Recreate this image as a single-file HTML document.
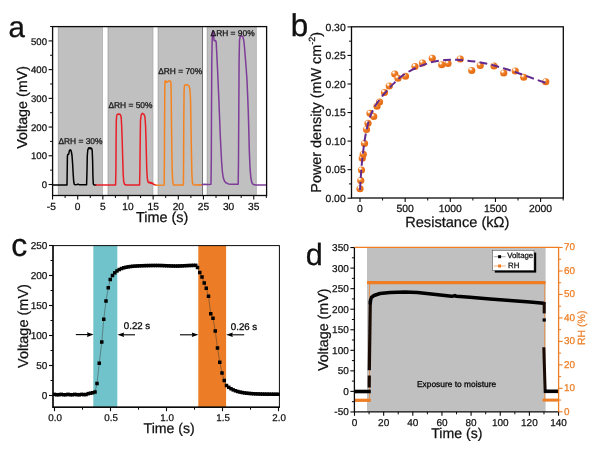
<!DOCTYPE html>
<html lang="en">
<head>
<meta charset="utf-8">
<title>Figure</title>
<style>
html,body{margin:0;padding:0;background:#fff;}
body{width:600px;height:450px;overflow:hidden;}
svg{display:block;filter:blur(0.45px);}
svg text{font-family:'Liberation Sans', Arial, sans-serif;text-rendering:geometricPrecision;}
</style>
</head>
<body>
<svg width="600" height="450" viewBox="0 0 600 450">
<defs>
<radialGradient id="ball" cx="0.36" cy="0.32" r="0.7" fx="0.33" fy="0.28">
<stop offset="0" stop-color="#ffffff"/>
<stop offset="0.16" stop-color="#fff1e0"/>
<stop offset="0.30" stop-color="#f39447"/>
<stop offset="0.55" stop-color="#ec751c"/>
<stop offset="1" stop-color="#e36a14"/>
</radialGradient>
</defs>
<rect x="0" y="0" width="600" height="450" fill="#ffffff"/>
<rect x="58.30" y="26.60" width="44.20" height="168.90" fill="#c0c0c0" />
<line x1="58.30" y1="26.60" x2="58.30" y2="195.50" stroke="#8a8a8a" stroke-width="0.6" />
<line x1="102.50" y1="26.60" x2="102.50" y2="195.50" stroke="#a0a0a0" stroke-width="0.6" />
<rect x="108.00" y="26.60" width="45.00" height="168.90" fill="#c0c0c0" />
<line x1="108.00" y1="26.60" x2="108.00" y2="195.50" stroke="#8a8a8a" stroke-width="0.6" />
<line x1="153.00" y1="26.60" x2="153.00" y2="195.50" stroke="#a0a0a0" stroke-width="0.6" />
<rect x="158.10" y="26.60" width="44.40" height="168.90" fill="#c0c0c0" />
<line x1="158.10" y1="26.60" x2="158.10" y2="195.50" stroke="#8a8a8a" stroke-width="0.6" />
<line x1="202.50" y1="26.60" x2="202.50" y2="195.50" stroke="#a0a0a0" stroke-width="0.6" />
<rect x="207.20" y="26.60" width="49.20" height="168.90" fill="#c0c0c0" />
<line x1="207.20" y1="26.60" x2="207.20" y2="195.50" stroke="#8a8a8a" stroke-width="0.6" />
<line x1="256.40" y1="26.60" x2="256.40" y2="195.50" stroke="#a0a0a0" stroke-width="0.6" />
<line x1="202.50" y1="26.60" x2="202.50" y2="195.50" stroke="#555" stroke-width="0.7" />
<polyline points="52.60,185.00 67.00,185.00 67.20,170.50 67.40,156.50 67.80,154.50 68.80,154.00 69.30,151.00 70.00,149.80 70.80,150.10 71.40,152.00 72.00,155.50 72.60,163.50 73.20,174.50 73.70,181.50 74.20,184.10 75.00,184.80 77.00,184.50 78.00,184.10 79.00,184.70 86.60,184.80 87.00,170.50 87.30,155.50 87.80,150.00 88.60,148.00 89.50,147.70 90.20,148.90 90.80,147.90 91.60,148.30 92.20,150.50 92.60,160.50 92.90,175.50 93.30,184.00 94.00,184.90 96.00,185.00" fill="none" stroke="#000" stroke-width="1.5" stroke-linejoin="round" stroke-linecap="round" />
<polyline points="96.00,185.10 115.60,185.10 115.90,170.50 116.10,140.50 116.30,120.50 116.70,115.50 117.40,114.20 119.60,114.10 120.60,115.10 121.20,117.50 121.70,126.50 122.20,140.50 122.70,158.50 123.20,174.50 123.70,181.50 124.50,184.30 126.00,185.00 139.60,185.00 139.90,170.50 140.20,140.50 140.50,120.50 141.20,115.00 142.40,113.30 143.80,114.10 144.90,116.50 145.50,124.50 146.00,138.50 146.40,155.50 146.80,170.50 147.30,178.50 148.00,182.00 148.80,182.70 149.60,182.10 150.40,183.30 151.20,182.50 152.00,183.70 152.70,183.10 153.50,184.30 154.70,184.70 156.00,185.10" fill="none" stroke="#e81f27" stroke-width="1.5" stroke-linejoin="round" stroke-linecap="round" />
<polyline points="156.00,185.20 164.20,185.10 164.40,160.50 164.60,120.50 164.80,90.50 165.00,81.10 165.80,80.80 166.60,82.30 167.60,82.10 168.60,80.90 170.20,80.90 170.90,82.50 171.20,95.50 171.50,125.50 171.90,155.50 172.30,172.50 172.80,182.50 173.60,185.00 183.40,185.00 183.60,160.50 183.80,120.50 184.10,90.50 184.50,85.30 185.70,84.70 187.60,84.90 189.00,86.00 189.90,89.00 190.50,98.50 190.90,120.50 191.40,150.50 191.90,174.50 192.40,182.50 193.20,184.80 196.00,185.10 199.00,184.80 202.00,185.10" fill="none" stroke="#f4831f" stroke-width="1.5" stroke-linejoin="round" stroke-linecap="round" />
<polyline points="202.20,184.70 204.00,184.30 208.00,184.50 211.00,184.30 211.30,160.50 211.50,110.50 211.80,60.50 212.20,38.50 212.70,30.90 213.30,31.30 213.70,34.50 213.90,39.50 214.30,40.70 215.60,40.50 216.20,42.50 216.60,50.50 217.10,60.50 217.60,70.50 218.20,84.50 218.90,100.50 219.60,118.50 220.20,133.50 220.90,148.50 221.60,161.50 222.30,171.00 223.20,177.50 224.40,181.00 225.90,182.80 228.40,183.90 232.00,184.30 238.20,184.20 238.50,160.50 238.80,110.50 239.10,60.50 239.50,40.50 240.20,36.50 241.40,35.90 242.80,36.50 243.80,40.50 244.60,48.50 245.40,58.50 246.20,68.50 247.00,80.50 247.70,96.50 248.30,112.50 248.80,130.50 249.30,150.50 250.00,167.50 250.80,177.50 251.80,182.50 253.20,184.50 256.00,185.00 266.00,184.90" fill="none" stroke="#7d3c98" stroke-width="1.5" stroke-linejoin="round" stroke-linecap="round" />
<rect x="52.6" y="26.6" width="214.00" height="168.90" fill="none" stroke="#0a0a0a" stroke-width="1.3"/>
<line x1="48.60" y1="184.50" x2="52.60" y2="184.50" stroke="#0a0a0a" stroke-width="1.1" />
<text x="47.00" y="188.10" font-size="9.6" text-anchor="end" fill="#111"  stroke="#111" stroke-width="0.25">0</text>
<line x1="48.60" y1="155.78" x2="52.60" y2="155.78" stroke="#0a0a0a" stroke-width="1.1" />
<text x="47.00" y="159.38" font-size="9.6" text-anchor="end" fill="#111"  stroke="#111" stroke-width="0.25">100</text>
<line x1="48.60" y1="127.06" x2="52.60" y2="127.06" stroke="#0a0a0a" stroke-width="1.1" />
<text x="47.00" y="130.66" font-size="9.6" text-anchor="end" fill="#111"  stroke="#111" stroke-width="0.25">200</text>
<line x1="48.60" y1="98.34" x2="52.60" y2="98.34" stroke="#0a0a0a" stroke-width="1.1" />
<text x="47.00" y="101.94" font-size="9.6" text-anchor="end" fill="#111"  stroke="#111" stroke-width="0.25">300</text>
<line x1="48.60" y1="69.62" x2="52.60" y2="69.62" stroke="#0a0a0a" stroke-width="1.1" />
<text x="47.00" y="73.22" font-size="9.6" text-anchor="end" fill="#111"  stroke="#111" stroke-width="0.25">400</text>
<line x1="48.60" y1="40.90" x2="52.60" y2="40.90" stroke="#0a0a0a" stroke-width="1.1" />
<text x="47.00" y="44.50" font-size="9.6" text-anchor="end" fill="#111"  stroke="#111" stroke-width="0.25">500</text>
<line x1="50.10" y1="170.14" x2="52.60" y2="170.14" stroke="#0a0a0a" stroke-width="1.0" />
<line x1="50.10" y1="141.42" x2="52.60" y2="141.42" stroke="#0a0a0a" stroke-width="1.0" />
<line x1="50.10" y1="112.70" x2="52.60" y2="112.70" stroke="#0a0a0a" stroke-width="1.0" />
<line x1="50.10" y1="83.98" x2="52.60" y2="83.98" stroke="#0a0a0a" stroke-width="1.0" />
<line x1="50.10" y1="55.26" x2="52.60" y2="55.26" stroke="#0a0a0a" stroke-width="1.0" />
<line x1="50.10" y1="26.54" x2="52.60" y2="26.54" stroke="#0a0a0a" stroke-width="1.0" />
<line x1="52.55" y1="195.50" x2="52.55" y2="199.50" stroke="#0a0a0a" stroke-width="1.1" />
<text x="51.35" y="209.50" font-size="10.2" text-anchor="middle" fill="#111"  stroke="#111" stroke-width="0.25">-5</text>
<line x1="77.70" y1="195.50" x2="77.70" y2="199.50" stroke="#0a0a0a" stroke-width="1.1" />
<text x="77.70" y="209.50" font-size="10.2" text-anchor="middle" fill="#111"  stroke="#111" stroke-width="0.25">0</text>
<line x1="102.85" y1="195.50" x2="102.85" y2="199.50" stroke="#0a0a0a" stroke-width="1.1" />
<text x="102.85" y="209.50" font-size="10.2" text-anchor="middle" fill="#111"  stroke="#111" stroke-width="0.25">5</text>
<line x1="128.00" y1="195.50" x2="128.00" y2="199.50" stroke="#0a0a0a" stroke-width="1.1" />
<text x="128.00" y="209.50" font-size="10.2" text-anchor="middle" fill="#111"  stroke="#111" stroke-width="0.25">10</text>
<line x1="153.15" y1="195.50" x2="153.15" y2="199.50" stroke="#0a0a0a" stroke-width="1.1" />
<text x="153.15" y="209.50" font-size="10.2" text-anchor="middle" fill="#111"  stroke="#111" stroke-width="0.25">15</text>
<line x1="178.30" y1="195.50" x2="178.30" y2="199.50" stroke="#0a0a0a" stroke-width="1.1" />
<text x="178.30" y="209.50" font-size="10.2" text-anchor="middle" fill="#111"  stroke="#111" stroke-width="0.25">20</text>
<line x1="203.45" y1="195.50" x2="203.45" y2="199.50" stroke="#0a0a0a" stroke-width="1.1" />
<text x="203.45" y="209.50" font-size="10.2" text-anchor="middle" fill="#111"  stroke="#111" stroke-width="0.25">25</text>
<line x1="228.60" y1="195.50" x2="228.60" y2="199.50" stroke="#0a0a0a" stroke-width="1.1" />
<text x="228.60" y="209.50" font-size="10.2" text-anchor="middle" fill="#111"  stroke="#111" stroke-width="0.25">30</text>
<line x1="253.75" y1="195.50" x2="253.75" y2="199.50" stroke="#0a0a0a" stroke-width="1.1" />
<text x="253.75" y="209.50" font-size="10.2" text-anchor="middle" fill="#111"  stroke="#111" stroke-width="0.25">35</text>
<line x1="65.12" y1="195.50" x2="65.12" y2="198.00" stroke="#0a0a0a" stroke-width="1.0" />
<line x1="90.28" y1="195.50" x2="90.28" y2="198.00" stroke="#0a0a0a" stroke-width="1.0" />
<line x1="115.43" y1="195.50" x2="115.43" y2="198.00" stroke="#0a0a0a" stroke-width="1.0" />
<line x1="140.57" y1="195.50" x2="140.57" y2="198.00" stroke="#0a0a0a" stroke-width="1.0" />
<line x1="165.73" y1="195.50" x2="165.73" y2="198.00" stroke="#0a0a0a" stroke-width="1.0" />
<line x1="190.88" y1="195.50" x2="190.88" y2="198.00" stroke="#0a0a0a" stroke-width="1.0" />
<line x1="216.03" y1="195.50" x2="216.03" y2="198.00" stroke="#0a0a0a" stroke-width="1.0" />
<line x1="241.18" y1="195.50" x2="241.18" y2="198.00" stroke="#0a0a0a" stroke-width="1.0" />
<line x1="266.32" y1="195.50" x2="266.32" y2="198.00" stroke="#0a0a0a" stroke-width="1.0" />
<text x="162.20" y="222.40" font-size="14.4" text-anchor="middle" fill="#111"  stroke="#111" stroke-width="0.25">Time (s)</text>
<text transform="translate(27.4,107.4) rotate(-90)" font-size="14.3" text-anchor="middle" fill="#111" stroke="#111" stroke-width="0.25">Voltage (mV)</text>
<text x="58.40" y="144.40" font-size="8.4" text-anchor="start" fill="#111"  stroke="#111" stroke-width="0.25">ΔRH = 30%</text>
<text x="108.40" y="107.60" font-size="8.4" text-anchor="start" fill="#111"  stroke="#111" stroke-width="0.25">ΔRH = 50%</text>
<text x="158.20" y="74.00" font-size="8.4" text-anchor="start" fill="#111"  stroke="#111" stroke-width="0.25">ΔRH = 70%</text>
<text x="210.60" y="36.00" font-size="8.4" text-anchor="start" fill="#111"  stroke="#111" stroke-width="0.25">ΔRH = 90%</text>
<text x="8.40" y="36.60" font-size="29.5" text-anchor="start" fill="#111" stroke="#111" stroke-width="0.3">a</text>
<rect x="351.5" y="26.8" width="211.80" height="171.20" fill="none" stroke="#0a0a0a" stroke-width="1.3"/>
<line x1="347.50" y1="198.20" x2="351.50" y2="198.20" stroke="#0a0a0a" stroke-width="1.1" />
<text x="345.70" y="201.80" font-size="10.4" text-anchor="end" fill="#111"  stroke="#111" stroke-width="0.25">0.00</text>
<line x1="347.50" y1="169.65" x2="351.50" y2="169.65" stroke="#0a0a0a" stroke-width="1.1" />
<text x="345.70" y="173.25" font-size="10.4" text-anchor="end" fill="#111"  stroke="#111" stroke-width="0.25">0.05</text>
<line x1="347.50" y1="141.10" x2="351.50" y2="141.10" stroke="#0a0a0a" stroke-width="1.1" />
<text x="345.70" y="144.70" font-size="10.4" text-anchor="end" fill="#111"  stroke="#111" stroke-width="0.25">0.10</text>
<line x1="347.50" y1="112.55" x2="351.50" y2="112.55" stroke="#0a0a0a" stroke-width="1.1" />
<text x="345.70" y="116.15" font-size="10.4" text-anchor="end" fill="#111"  stroke="#111" stroke-width="0.25">0.15</text>
<line x1="347.50" y1="84.00" x2="351.50" y2="84.00" stroke="#0a0a0a" stroke-width="1.1" />
<text x="345.70" y="87.60" font-size="10.4" text-anchor="end" fill="#111"  stroke="#111" stroke-width="0.25">0.20</text>
<line x1="347.50" y1="55.45" x2="351.50" y2="55.45" stroke="#0a0a0a" stroke-width="1.1" />
<text x="345.70" y="59.05" font-size="10.4" text-anchor="end" fill="#111"  stroke="#111" stroke-width="0.25">0.25</text>
<line x1="347.50" y1="26.90" x2="351.50" y2="26.90" stroke="#0a0a0a" stroke-width="1.1" />
<text x="345.70" y="30.50" font-size="10.4" text-anchor="end" fill="#111"  stroke="#111" stroke-width="0.25">0.30</text>
<line x1="349.00" y1="183.92" x2="351.50" y2="183.92" stroke="#0a0a0a" stroke-width="1.0" />
<line x1="349.00" y1="155.38" x2="351.50" y2="155.38" stroke="#0a0a0a" stroke-width="1.0" />
<line x1="349.00" y1="126.82" x2="351.50" y2="126.82" stroke="#0a0a0a" stroke-width="1.0" />
<line x1="349.00" y1="98.27" x2="351.50" y2="98.27" stroke="#0a0a0a" stroke-width="1.0" />
<line x1="349.00" y1="69.72" x2="351.50" y2="69.72" stroke="#0a0a0a" stroke-width="1.0" />
<line x1="349.00" y1="41.17" x2="351.50" y2="41.17" stroke="#0a0a0a" stroke-width="1.0" />
<line x1="360.00" y1="198.00" x2="360.00" y2="202.00" stroke="#0a0a0a" stroke-width="1.1" />
<text x="360.00" y="212.40" font-size="10.4" text-anchor="middle" fill="#111"  stroke="#111" stroke-width="0.25">0</text>
<line x1="405.15" y1="198.00" x2="405.15" y2="202.00" stroke="#0a0a0a" stroke-width="1.1" />
<text x="405.15" y="212.40" font-size="10.4" text-anchor="middle" fill="#111"  stroke="#111" stroke-width="0.25">500</text>
<line x1="450.30" y1="198.00" x2="450.30" y2="202.00" stroke="#0a0a0a" stroke-width="1.1" />
<text x="450.30" y="212.40" font-size="10.4" text-anchor="middle" fill="#111"  stroke="#111" stroke-width="0.25">1000</text>
<line x1="495.45" y1="198.00" x2="495.45" y2="202.00" stroke="#0a0a0a" stroke-width="1.1" />
<text x="495.45" y="212.40" font-size="10.4" text-anchor="middle" fill="#111"  stroke="#111" stroke-width="0.25">1500</text>
<line x1="540.60" y1="198.00" x2="540.60" y2="202.00" stroke="#0a0a0a" stroke-width="1.1" />
<text x="540.60" y="212.40" font-size="10.4" text-anchor="middle" fill="#111"  stroke="#111" stroke-width="0.25">2000</text>
<line x1="382.57" y1="198.00" x2="382.57" y2="200.50" stroke="#0a0a0a" stroke-width="1.0" />
<line x1="427.73" y1="198.00" x2="427.73" y2="200.50" stroke="#0a0a0a" stroke-width="1.0" />
<line x1="472.88" y1="198.00" x2="472.88" y2="200.50" stroke="#0a0a0a" stroke-width="1.0" />
<line x1="518.02" y1="198.00" x2="518.02" y2="200.50" stroke="#0a0a0a" stroke-width="1.0" />
<line x1="563.17" y1="198.00" x2="563.17" y2="200.50" stroke="#0a0a0a" stroke-width="1.0" />
<text x="457.30" y="227.00" font-size="14.6" text-anchor="middle" fill="#111"  stroke="#111" stroke-width="0.25">Resistance (kΩ)</text>
<text transform="translate(320.8,112.3) rotate(-90)" font-size="14.4" text-anchor="middle" fill="#111" stroke="#111" stroke-width="0.25">Power density (mW cm<tspan font-size="9" dy="-5.4">-2</tspan><tspan dy="5.4">)</tspan></text>
<text x="290.80" y="36.40" font-size="31.4" text-anchor="start" fill="#111" stroke="#111" stroke-width="0.3">b</text>
<circle cx="360.00" cy="188.75" r="3.6" fill="url(#ball)"/>
<circle cx="360.75" cy="180.50" r="3.6" fill="url(#ball)"/>
<circle cx="361.50" cy="170.00" r="3.6" fill="url(#ball)"/>
<circle cx="362.25" cy="158.25" r="3.6" fill="url(#ball)"/>
<circle cx="363.25" cy="154.25" r="3.6" fill="url(#ball)"/>
<circle cx="364.50" cy="143.50" r="3.6" fill="url(#ball)"/>
<circle cx="366.50" cy="129.50" r="3.6" fill="url(#ball)"/>
<circle cx="368.00" cy="123.25" r="3.6" fill="url(#ball)"/>
<circle cx="370.00" cy="113.25" r="3.6" fill="url(#ball)"/>
<circle cx="373.75" cy="116.50" r="3.6" fill="url(#ball)"/>
<circle cx="377.00" cy="106.25" r="3.6" fill="url(#ball)"/>
<circle cx="379.50" cy="102.00" r="3.6" fill="url(#ball)"/>
<circle cx="384.50" cy="92.50" r="3.6" fill="url(#ball)"/>
<circle cx="389.25" cy="86.00" r="3.6" fill="url(#ball)"/>
<circle cx="394.75" cy="74.00" r="3.6" fill="url(#ball)"/>
<circle cx="398.00" cy="78.25" r="3.6" fill="url(#ball)"/>
<circle cx="405.50" cy="76.25" r="3.6" fill="url(#ball)"/>
<circle cx="415.00" cy="66.50" r="3.6" fill="url(#ball)"/>
<circle cx="422.50" cy="63.00" r="3.6" fill="url(#ball)"/>
<circle cx="432.25" cy="58.25" r="3.6" fill="url(#ball)"/>
<circle cx="441.75" cy="64.75" r="3.6" fill="url(#ball)"/>
<circle cx="448.00" cy="63.50" r="3.6" fill="url(#ball)"/>
<circle cx="460.25" cy="59.00" r="3.6" fill="url(#ball)"/>
<circle cx="471.75" cy="70.50" r="3.6" fill="url(#ball)"/>
<circle cx="480.25" cy="65.50" r="3.6" fill="url(#ball)"/>
<circle cx="494.00" cy="66.00" r="3.6" fill="url(#ball)"/>
<circle cx="503.75" cy="73.00" r="3.6" fill="url(#ball)"/>
<circle cx="515.25" cy="71.00" r="3.6" fill="url(#ball)"/>
<circle cx="523.75" cy="77.25" r="3.6" fill="url(#ball)"/>
<circle cx="545.75" cy="81.75" r="3.6" fill="url(#ball)"/>
<path d="M360.00,190.00 C360.10,188.33 360.38,183.33 360.60,180.00 C360.82,176.67 361.02,173.50 361.30,170.00 C361.58,166.50 361.92,162.67 362.30,159.00 C362.68,155.33 363.12,151.67 363.60,148.00 C364.08,144.33 364.60,140.50 365.20,137.00 C365.80,133.50 366.40,130.33 367.20,127.00 C368.00,123.67 368.93,120.03 370.00,117.00 C371.07,113.97 372.27,111.33 373.60,108.80 C374.93,106.27 376.27,104.27 378.00,101.80 C379.73,99.33 382.17,96.23 384.00,94.00 C385.83,91.77 387.45,90.08 389.00,88.40 C390.55,86.72 391.25,85.88 393.30,83.90 C395.35,81.92 398.18,78.85 401.30,76.50 C404.42,74.15 408.43,71.70 412.00,69.80 C415.57,67.90 419.15,66.43 422.70,65.10 C426.25,63.77 429.53,62.65 433.30,61.80 C437.07,60.95 441.52,60.33 445.30,60.00 C449.08,59.67 451.05,59.55 456.00,59.80 C460.95,60.05 469.33,60.72 475.00,61.50 C480.67,62.28 485.00,63.30 490.00,64.50 C495.00,65.70 500.00,67.17 505.00,68.70 C510.00,70.23 515.00,71.97 520.00,73.70 C525.00,75.43 530.67,77.55 535.00,79.10 C539.33,80.65 544.17,82.35 546.00,83.00" fill="none" stroke="#622a8e" stroke-width="2.0" stroke-dasharray="8 4.2"/>
<rect x="93.30" y="245.60" width="24.00" height="161.60" fill="#70c3ca" />
<rect x="198.30" y="245.60" width="27.80" height="161.60" fill="#ec7c25" />
<polyline points="54.50,394.37 56.75,394.78 59.00,394.68 61.25,394.35 63.50,394.74 65.75,394.72 68.00,394.35 70.25,394.70 72.50,394.77 74.75,394.36 77.00,394.65 79.25,394.80 81.50,394.38 83.75,394.59 86.00,394.56 88.25,393.65 90.50,393.17 92.75,392.76 95.00,392.00 97.00,383.50 99.25,363.25 101.75,342.00 103.75,319.25 106.00,301.00 108.25,287.75 110.25,279.50 112.50,275.50 114.75,272.84 117.00,270.93 119.25,269.55 121.50,268.54 123.75,267.81 126.00,267.26 128.25,266.85 130.50,266.53 132.75,266.29 135.00,266.11 137.25,265.96 139.50,265.84 141.75,265.75 144.00,265.67 146.25,265.61 148.50,265.57 150.75,265.53 153.00,265.50 155.25,265.49 157.50,265.50 159.75,265.52 162.00,265.57 164.25,265.65 166.50,265.74 168.75,265.84 171.00,265.94 173.25,266.01 175.50,266.03 177.75,266.02 180.00,265.95 182.25,265.86 184.50,265.74 186.75,265.63 189.00,265.53 191.25,265.45 193.50,265.39 195.75,265.36 197.50,267.50 199.75,272.50 202.00,277.00 204.25,283.00 206.25,288.25 208.50,296.25 210.75,313.75 213.00,318.25 215.25,331.00 217.50,348.00 219.75,362.25 222.00,373.00 224.25,380.50 226.50,385.50 228.75,387.31 231.00,388.74 233.25,389.88 235.50,390.79 237.75,391.51 240.00,392.08 242.25,392.54 244.50,392.90 246.75,393.19 249.00,393.41 251.25,393.60 253.50,393.74 255.75,393.86 258.00,393.95 260.25,394.02 262.50,394.08 264.75,394.12 267.00,394.16 269.25,394.19 271.50,394.21 273.75,394.23 276.00,394.24 278.25,394.26" fill="none" stroke="#333" stroke-width="0.45" stroke-linejoin="round" stroke-linecap="round" />
<rect x="52.75" y="392.62" width="3.50" height="3.50" fill="#000" />
<rect x="55.00" y="393.03" width="3.50" height="3.50" fill="#000" />
<rect x="57.25" y="392.93" width="3.50" height="3.50" fill="#000" />
<rect x="59.50" y="392.60" width="3.50" height="3.50" fill="#000" />
<rect x="61.75" y="392.99" width="3.50" height="3.50" fill="#000" />
<rect x="64.00" y="392.97" width="3.50" height="3.50" fill="#000" />
<rect x="66.25" y="392.60" width="3.50" height="3.50" fill="#000" />
<rect x="68.50" y="392.95" width="3.50" height="3.50" fill="#000" />
<rect x="70.75" y="393.02" width="3.50" height="3.50" fill="#000" />
<rect x="73.00" y="392.61" width="3.50" height="3.50" fill="#000" />
<rect x="75.25" y="392.90" width="3.50" height="3.50" fill="#000" />
<rect x="77.50" y="393.05" width="3.50" height="3.50" fill="#000" />
<rect x="79.75" y="392.63" width="3.50" height="3.50" fill="#000" />
<rect x="82.00" y="392.84" width="3.50" height="3.50" fill="#000" />
<rect x="84.25" y="392.81" width="3.50" height="3.50" fill="#000" />
<rect x="86.50" y="391.90" width="3.50" height="3.50" fill="#000" />
<rect x="88.75" y="391.42" width="3.50" height="3.50" fill="#000" />
<rect x="91.00" y="391.01" width="3.50" height="3.50" fill="#000" />
<rect x="93.25" y="390.25" width="3.50" height="3.50" fill="#000" />
<rect x="95.25" y="381.75" width="3.50" height="3.50" fill="#000" />
<rect x="97.50" y="361.50" width="3.50" height="3.50" fill="#000" />
<rect x="100.00" y="340.25" width="3.50" height="3.50" fill="#000" />
<rect x="102.00" y="317.50" width="3.50" height="3.50" fill="#000" />
<rect x="104.25" y="299.25" width="3.50" height="3.50" fill="#000" />
<rect x="106.50" y="286.00" width="3.50" height="3.50" fill="#000" />
<rect x="108.50" y="277.75" width="3.50" height="3.50" fill="#000" />
<rect x="110.75" y="273.75" width="3.50" height="3.50" fill="#000" />
<rect x="113.00" y="271.09" width="3.50" height="3.50" fill="#000" />
<rect x="115.25" y="269.18" width="3.50" height="3.50" fill="#000" />
<rect x="117.50" y="267.80" width="3.50" height="3.50" fill="#000" />
<rect x="119.75" y="266.79" width="3.50" height="3.50" fill="#000" />
<rect x="122.00" y="266.06" width="3.50" height="3.50" fill="#000" />
<rect x="124.25" y="265.51" width="3.50" height="3.50" fill="#000" />
<rect x="126.50" y="265.10" width="3.50" height="3.50" fill="#000" />
<rect x="128.75" y="264.78" width="3.50" height="3.50" fill="#000" />
<rect x="131.00" y="264.54" width="3.50" height="3.50" fill="#000" />
<rect x="133.25" y="264.36" width="3.50" height="3.50" fill="#000" />
<rect x="135.50" y="264.21" width="3.50" height="3.50" fill="#000" />
<rect x="137.75" y="264.09" width="3.50" height="3.50" fill="#000" />
<rect x="140.00" y="264.00" width="3.50" height="3.50" fill="#000" />
<rect x="142.25" y="263.92" width="3.50" height="3.50" fill="#000" />
<rect x="144.50" y="263.86" width="3.50" height="3.50" fill="#000" />
<rect x="146.75" y="263.82" width="3.50" height="3.50" fill="#000" />
<rect x="149.00" y="263.78" width="3.50" height="3.50" fill="#000" />
<rect x="151.25" y="263.75" width="3.50" height="3.50" fill="#000" />
<rect x="153.50" y="263.74" width="3.50" height="3.50" fill="#000" />
<rect x="155.75" y="263.75" width="3.50" height="3.50" fill="#000" />
<rect x="158.00" y="263.77" width="3.50" height="3.50" fill="#000" />
<rect x="160.25" y="263.82" width="3.50" height="3.50" fill="#000" />
<rect x="162.50" y="263.90" width="3.50" height="3.50" fill="#000" />
<rect x="164.75" y="263.99" width="3.50" height="3.50" fill="#000" />
<rect x="167.00" y="264.09" width="3.50" height="3.50" fill="#000" />
<rect x="169.25" y="264.19" width="3.50" height="3.50" fill="#000" />
<rect x="171.50" y="264.26" width="3.50" height="3.50" fill="#000" />
<rect x="173.75" y="264.28" width="3.50" height="3.50" fill="#000" />
<rect x="176.00" y="264.27" width="3.50" height="3.50" fill="#000" />
<rect x="178.25" y="264.20" width="3.50" height="3.50" fill="#000" />
<rect x="180.50" y="264.11" width="3.50" height="3.50" fill="#000" />
<rect x="182.75" y="263.99" width="3.50" height="3.50" fill="#000" />
<rect x="185.00" y="263.88" width="3.50" height="3.50" fill="#000" />
<rect x="187.25" y="263.78" width="3.50" height="3.50" fill="#000" />
<rect x="189.50" y="263.70" width="3.50" height="3.50" fill="#000" />
<rect x="191.75" y="263.64" width="3.50" height="3.50" fill="#000" />
<rect x="194.00" y="263.61" width="3.50" height="3.50" fill="#000" />
<rect x="195.75" y="265.75" width="3.50" height="3.50" fill="#000" />
<rect x="198.00" y="270.75" width="3.50" height="3.50" fill="#000" />
<rect x="200.25" y="275.25" width="3.50" height="3.50" fill="#000" />
<rect x="202.50" y="281.25" width="3.50" height="3.50" fill="#000" />
<rect x="204.50" y="286.50" width="3.50" height="3.50" fill="#000" />
<rect x="206.75" y="294.50" width="3.50" height="3.50" fill="#000" />
<rect x="209.00" y="312.00" width="3.50" height="3.50" fill="#000" />
<rect x="211.25" y="316.50" width="3.50" height="3.50" fill="#000" />
<rect x="213.50" y="329.25" width="3.50" height="3.50" fill="#000" />
<rect x="215.75" y="346.25" width="3.50" height="3.50" fill="#000" />
<rect x="218.00" y="360.50" width="3.50" height="3.50" fill="#000" />
<rect x="220.25" y="371.25" width="3.50" height="3.50" fill="#000" />
<rect x="222.50" y="378.75" width="3.50" height="3.50" fill="#000" />
<rect x="224.75" y="383.75" width="3.50" height="3.50" fill="#000" />
<rect x="227.00" y="385.56" width="3.50" height="3.50" fill="#000" />
<rect x="229.25" y="386.99" width="3.50" height="3.50" fill="#000" />
<rect x="231.50" y="388.13" width="3.50" height="3.50" fill="#000" />
<rect x="233.75" y="389.04" width="3.50" height="3.50" fill="#000" />
<rect x="236.00" y="389.76" width="3.50" height="3.50" fill="#000" />
<rect x="238.25" y="390.33" width="3.50" height="3.50" fill="#000" />
<rect x="240.50" y="390.79" width="3.50" height="3.50" fill="#000" />
<rect x="242.75" y="391.15" width="3.50" height="3.50" fill="#000" />
<rect x="245.00" y="391.44" width="3.50" height="3.50" fill="#000" />
<rect x="247.25" y="391.66" width="3.50" height="3.50" fill="#000" />
<rect x="249.50" y="391.85" width="3.50" height="3.50" fill="#000" />
<rect x="251.75" y="391.99" width="3.50" height="3.50" fill="#000" />
<rect x="254.00" y="392.11" width="3.50" height="3.50" fill="#000" />
<rect x="256.25" y="392.20" width="3.50" height="3.50" fill="#000" />
<rect x="258.50" y="392.27" width="3.50" height="3.50" fill="#000" />
<rect x="260.75" y="392.33" width="3.50" height="3.50" fill="#000" />
<rect x="263.00" y="392.37" width="3.50" height="3.50" fill="#000" />
<rect x="265.25" y="392.41" width="3.50" height="3.50" fill="#000" />
<rect x="267.50" y="392.44" width="3.50" height="3.50" fill="#000" />
<rect x="269.75" y="392.46" width="3.50" height="3.50" fill="#000" />
<rect x="272.00" y="392.48" width="3.50" height="3.50" fill="#000" />
<rect x="274.25" y="392.49" width="3.50" height="3.50" fill="#000" />
<rect x="276.50" y="392.51" width="3.50" height="3.50" fill="#000" />
<rect x="53.0" y="245.6" width="226.40" height="161.60" fill="none" stroke="#0a0a0a" stroke-width="1.0"/>
<line x1="53.00" y1="245.10" x2="53.00" y2="407.80" stroke="#0a0a0a" stroke-width="1.4" />
<line x1="52.40" y1="407.20" x2="279.90" y2="407.20" stroke="#0a0a0a" stroke-width="1.4" />
<line x1="49.00" y1="395.50" x2="53.00" y2="395.50" stroke="#0a0a0a" stroke-width="1.1" />
<text x="47.40" y="398.90" font-size="10" text-anchor="end" fill="#111"  stroke="#111" stroke-width="0.25">0</text>
<line x1="49.00" y1="365.50" x2="53.00" y2="365.50" stroke="#0a0a0a" stroke-width="1.1" />
<text x="47.40" y="368.90" font-size="10" text-anchor="end" fill="#111"  stroke="#111" stroke-width="0.25">50</text>
<line x1="49.00" y1="335.50" x2="53.00" y2="335.50" stroke="#0a0a0a" stroke-width="1.1" />
<text x="47.40" y="338.90" font-size="10" text-anchor="end" fill="#111"  stroke="#111" stroke-width="0.25">100</text>
<line x1="49.00" y1="305.50" x2="53.00" y2="305.50" stroke="#0a0a0a" stroke-width="1.1" />
<text x="47.40" y="308.90" font-size="10" text-anchor="end" fill="#111"  stroke="#111" stroke-width="0.25">150</text>
<line x1="49.00" y1="275.50" x2="53.00" y2="275.50" stroke="#0a0a0a" stroke-width="1.1" />
<text x="47.40" y="278.90" font-size="10" text-anchor="end" fill="#111"  stroke="#111" stroke-width="0.25">200</text>
<line x1="49.00" y1="245.50" x2="53.00" y2="245.50" stroke="#0a0a0a" stroke-width="1.1" />
<text x="47.40" y="248.90" font-size="10" text-anchor="end" fill="#111"  stroke="#111" stroke-width="0.25">250</text>
<line x1="50.50" y1="380.50" x2="53.00" y2="380.50" stroke="#0a0a0a" stroke-width="1.0" />
<line x1="50.50" y1="350.50" x2="53.00" y2="350.50" stroke="#0a0a0a" stroke-width="1.0" />
<line x1="50.50" y1="320.50" x2="53.00" y2="320.50" stroke="#0a0a0a" stroke-width="1.0" />
<line x1="50.50" y1="290.50" x2="53.00" y2="290.50" stroke="#0a0a0a" stroke-width="1.0" />
<line x1="50.50" y1="260.50" x2="53.00" y2="260.50" stroke="#0a0a0a" stroke-width="1.0" />
<line x1="54.50" y1="407.20" x2="54.50" y2="411.20" stroke="#0a0a0a" stroke-width="1.1" />
<text x="55.10" y="421.10" font-size="9.8" text-anchor="middle" fill="#111"  stroke="#111" stroke-width="0.25">0.0</text>
<line x1="110.50" y1="407.20" x2="110.50" y2="411.20" stroke="#0a0a0a" stroke-width="1.1" />
<text x="111.10" y="421.10" font-size="9.8" text-anchor="middle" fill="#111"  stroke="#111" stroke-width="0.25">0.5</text>
<line x1="166.50" y1="407.20" x2="166.50" y2="411.20" stroke="#0a0a0a" stroke-width="1.1" />
<text x="167.10" y="421.10" font-size="9.8" text-anchor="middle" fill="#111"  stroke="#111" stroke-width="0.25">1.0</text>
<line x1="222.50" y1="407.20" x2="222.50" y2="411.20" stroke="#0a0a0a" stroke-width="1.1" />
<text x="223.10" y="421.10" font-size="9.8" text-anchor="middle" fill="#111"  stroke="#111" stroke-width="0.25">1.5</text>
<line x1="278.50" y1="407.20" x2="278.50" y2="411.20" stroke="#0a0a0a" stroke-width="1.1" />
<text x="279.10" y="421.10" font-size="9.8" text-anchor="middle" fill="#111"  stroke="#111" stroke-width="0.25">2.0</text>
<line x1="82.50" y1="407.20" x2="82.50" y2="409.70" stroke="#0a0a0a" stroke-width="1.0" />
<line x1="138.50" y1="407.20" x2="138.50" y2="409.70" stroke="#0a0a0a" stroke-width="1.0" />
<line x1="194.50" y1="407.20" x2="194.50" y2="409.70" stroke="#0a0a0a" stroke-width="1.0" />
<line x1="250.50" y1="407.20" x2="250.50" y2="409.70" stroke="#0a0a0a" stroke-width="1.0" />
<text x="169.20" y="433.40" font-size="14.1" text-anchor="middle" fill="#111"  stroke="#111" stroke-width="0.25">Time (s)</text>
<text transform="translate(27.8,326.0) rotate(-90)" font-size="14.5" text-anchor="middle" fill="#111" stroke="#111" stroke-width="0.25">Voltage (mV)</text>
<text x="11.30" y="256.00" font-size="32" text-anchor="start" fill="#111" stroke="#111" stroke-width="0.3">c</text>
<line x1="75.80" y1="334.60" x2="89.60" y2="334.60" stroke="#000" stroke-width="1.1" />
<polygon points="93.60,334.60 87.00,332.30 87.60,334.60 87.00,336.90" fill="#000"/>
<line x1="135.00" y1="334.80" x2="121.50" y2="334.80" stroke="#000" stroke-width="1.1" />
<polygon points="117.50,334.80 124.10,332.50 123.50,334.80 124.10,337.10" fill="#000"/>
<line x1="180.00" y1="334.80" x2="194.40" y2="334.80" stroke="#000" stroke-width="1.1" />
<polygon points="198.40,334.80 191.80,332.50 192.40,334.80 191.80,337.10" fill="#000"/>
<line x1="244.20" y1="334.80" x2="230.20" y2="334.80" stroke="#000" stroke-width="1.1" />
<polygon points="226.20,334.80 232.80,332.50 232.20,334.80 232.80,337.10" fill="#000"/>
<text x="123.80" y="329.00" font-size="9.7" text-anchor="start" fill="#000"  stroke="#000" stroke-width="0.25">0.22 s</text>
<text x="230.80" y="330.20" font-size="9.7" text-anchor="start" fill="#000"  stroke="#000" stroke-width="0.25">0.26 s</text>
<rect x="367.00" y="247.40" width="178.60" height="164.40" fill="#c0c0c0" />
<line x1="354.50" y1="400.30" x2="370.80" y2="400.30" stroke="#ee7d23" stroke-width="3.2" />
<line x1="369.60" y1="399.00" x2="369.60" y2="282.70" stroke="#ee7d23" stroke-width="0.7" />
<line x1="367.00" y1="282.70" x2="545.60" y2="282.70" stroke="#ee7d23" stroke-width="3.3" />
<line x1="544.70" y1="282.70" x2="544.70" y2="400.20" stroke="#ee7d23" stroke-width="0.7" />
<line x1="542.60" y1="400.10" x2="558.60" y2="400.10" stroke="#ee7d23" stroke-width="3.0" />
<line x1="354.50" y1="391.50" x2="370.80" y2="391.50" stroke="#000" stroke-width="3.6" />
<line x1="369.20" y1="387.60" x2="369.30" y2="375.40" stroke="#1a0a04" stroke-width="3.2" />
<line x1="369.30" y1="370.20" x2="370.30" y2="300.50" stroke="#1a0a04" stroke-width="3.2" />
<polyline points="370.30,303.00 370.60,300.00 371.50,297.40 374.00,295.50 380.00,293.50 390.00,292.40 405.00,291.90 417.50,292.50 451.70,296.20 453.50,296.00 455.00,295.60 456.50,296.30 470.00,297.30 490.00,298.90 510.00,300.50 530.00,302.10 543.60,303.30" fill="none" stroke="#000" stroke-width="3.5" stroke-linejoin="round" stroke-linecap="round" />
<line x1="544.20" y1="302.00" x2="544.20" y2="313.40" stroke="#1a0a04" stroke-width="3.0" />
<rect x="542.60" y="318.40" width="3.20" height="3.20" fill="#000" />
<line x1="543.80" y1="347.20" x2="545.20" y2="393.00" stroke="#1a0a04" stroke-width="3.0" />
<line x1="544.20" y1="391.30" x2="558.60" y2="391.30" stroke="#000" stroke-width="3.6" />
<line x1="354.40" y1="247.40" x2="354.40" y2="411.80" stroke="#0a0a0a" stroke-width="1.3" />
<line x1="353.80" y1="411.80" x2="558.60" y2="411.80" stroke="#0a0a0a" stroke-width="1.3" />
<line x1="353.80" y1="247.40" x2="559.20" y2="247.40" stroke="#ee7d23" stroke-width="1.3" />
<line x1="558.60" y1="247.40" x2="558.60" y2="412.40" stroke="#ee7d23" stroke-width="1.3" />
<line x1="350.40" y1="411.95" x2="354.40" y2="411.95" stroke="#0a0a0a" stroke-width="1.1" />
<text x="348.80" y="415.45" font-size="10" text-anchor="end" fill="#111"  stroke="#111" stroke-width="0.25">-50</text>
<line x1="350.40" y1="391.40" x2="354.40" y2="391.40" stroke="#0a0a0a" stroke-width="1.1" />
<text x="348.80" y="394.90" font-size="10" text-anchor="end" fill="#111"  stroke="#111" stroke-width="0.25">0</text>
<line x1="350.40" y1="370.85" x2="354.40" y2="370.85" stroke="#0a0a0a" stroke-width="1.1" />
<text x="348.80" y="374.35" font-size="10" text-anchor="end" fill="#111"  stroke="#111" stroke-width="0.25">50</text>
<line x1="350.40" y1="350.30" x2="354.40" y2="350.30" stroke="#0a0a0a" stroke-width="1.1" />
<text x="348.80" y="353.80" font-size="10" text-anchor="end" fill="#111"  stroke="#111" stroke-width="0.25">100</text>
<line x1="350.40" y1="329.75" x2="354.40" y2="329.75" stroke="#0a0a0a" stroke-width="1.1" />
<text x="348.80" y="333.25" font-size="10" text-anchor="end" fill="#111"  stroke="#111" stroke-width="0.25">150</text>
<line x1="350.40" y1="309.20" x2="354.40" y2="309.20" stroke="#0a0a0a" stroke-width="1.1" />
<text x="348.80" y="312.70" font-size="10" text-anchor="end" fill="#111"  stroke="#111" stroke-width="0.25">200</text>
<line x1="350.40" y1="288.65" x2="354.40" y2="288.65" stroke="#0a0a0a" stroke-width="1.1" />
<text x="348.80" y="292.15" font-size="10" text-anchor="end" fill="#111"  stroke="#111" stroke-width="0.25">250</text>
<line x1="350.40" y1="268.10" x2="354.40" y2="268.10" stroke="#0a0a0a" stroke-width="1.1" />
<text x="348.80" y="271.60" font-size="10" text-anchor="end" fill="#111"  stroke="#111" stroke-width="0.25">300</text>
<line x1="350.40" y1="247.55" x2="354.40" y2="247.55" stroke="#0a0a0a" stroke-width="1.1" />
<text x="348.80" y="251.05" font-size="10" text-anchor="end" fill="#111"  stroke="#111" stroke-width="0.25">350</text>
<line x1="351.90" y1="401.67" x2="354.40" y2="401.67" stroke="#0a0a0a" stroke-width="1.0" />
<line x1="351.90" y1="381.12" x2="354.40" y2="381.12" stroke="#0a0a0a" stroke-width="1.0" />
<line x1="351.90" y1="360.57" x2="354.40" y2="360.57" stroke="#0a0a0a" stroke-width="1.0" />
<line x1="351.90" y1="340.02" x2="354.40" y2="340.02" stroke="#0a0a0a" stroke-width="1.0" />
<line x1="351.90" y1="319.47" x2="354.40" y2="319.47" stroke="#0a0a0a" stroke-width="1.0" />
<line x1="351.90" y1="298.92" x2="354.40" y2="298.92" stroke="#0a0a0a" stroke-width="1.0" />
<line x1="351.90" y1="278.38" x2="354.40" y2="278.38" stroke="#0a0a0a" stroke-width="1.0" />
<line x1="351.90" y1="257.82" x2="354.40" y2="257.82" stroke="#0a0a0a" stroke-width="1.0" />
<line x1="354.50" y1="411.80" x2="354.50" y2="415.80" stroke="#0a0a0a" stroke-width="1.1" />
<text x="354.50" y="426.20" font-size="10" text-anchor="middle" fill="#111"  stroke="#111" stroke-width="0.25">0</text>
<line x1="383.65" y1="411.80" x2="383.65" y2="415.80" stroke="#0a0a0a" stroke-width="1.1" />
<text x="383.65" y="426.20" font-size="10" text-anchor="middle" fill="#111"  stroke="#111" stroke-width="0.25">20</text>
<line x1="412.80" y1="411.80" x2="412.80" y2="415.80" stroke="#0a0a0a" stroke-width="1.1" />
<text x="412.80" y="426.20" font-size="10" text-anchor="middle" fill="#111"  stroke="#111" stroke-width="0.25">40</text>
<line x1="441.95" y1="411.80" x2="441.95" y2="415.80" stroke="#0a0a0a" stroke-width="1.1" />
<text x="441.95" y="426.20" font-size="10" text-anchor="middle" fill="#111"  stroke="#111" stroke-width="0.25">60</text>
<line x1="471.10" y1="411.80" x2="471.10" y2="415.80" stroke="#0a0a0a" stroke-width="1.1" />
<text x="471.10" y="426.20" font-size="10" text-anchor="middle" fill="#111"  stroke="#111" stroke-width="0.25">80</text>
<line x1="500.25" y1="411.80" x2="500.25" y2="415.80" stroke="#0a0a0a" stroke-width="1.1" />
<text x="500.25" y="426.20" font-size="10" text-anchor="middle" fill="#111"  stroke="#111" stroke-width="0.25">100</text>
<line x1="529.40" y1="411.80" x2="529.40" y2="415.80" stroke="#0a0a0a" stroke-width="1.1" />
<text x="529.40" y="426.20" font-size="10" text-anchor="middle" fill="#111"  stroke="#111" stroke-width="0.25">120</text>
<line x1="558.55" y1="411.80" x2="558.55" y2="415.80" stroke="#0a0a0a" stroke-width="1.1" />
<text x="558.55" y="426.20" font-size="10" text-anchor="middle" fill="#111"  stroke="#111" stroke-width="0.25">140</text>
<line x1="369.07" y1="411.80" x2="369.07" y2="414.30" stroke="#0a0a0a" stroke-width="1.0" />
<line x1="398.23" y1="411.80" x2="398.23" y2="414.30" stroke="#0a0a0a" stroke-width="1.0" />
<line x1="427.38" y1="411.80" x2="427.38" y2="414.30" stroke="#0a0a0a" stroke-width="1.0" />
<line x1="456.52" y1="411.80" x2="456.52" y2="414.30" stroke="#0a0a0a" stroke-width="1.0" />
<line x1="485.68" y1="411.80" x2="485.68" y2="414.30" stroke="#0a0a0a" stroke-width="1.0" />
<line x1="514.83" y1="411.80" x2="514.83" y2="414.30" stroke="#0a0a0a" stroke-width="1.0" />
<line x1="543.98" y1="411.80" x2="543.98" y2="414.30" stroke="#0a0a0a" stroke-width="1.0" />
<line x1="558.60" y1="411.80" x2="562.60" y2="411.80" stroke="#ee7d23" stroke-width="1.1" />
<text x="564.00" y="414.70" font-size="9.9" text-anchor="start" fill="#ee7d23"  stroke="#ee7d23" stroke-width="0.25">0</text>
<line x1="558.60" y1="388.33" x2="562.60" y2="388.33" stroke="#ee7d23" stroke-width="1.1" />
<text x="564.00" y="391.23" font-size="9.9" text-anchor="start" fill="#ee7d23"  stroke="#ee7d23" stroke-width="0.25">10</text>
<line x1="558.60" y1="364.86" x2="562.60" y2="364.86" stroke="#ee7d23" stroke-width="1.1" />
<text x="564.00" y="367.76" font-size="9.9" text-anchor="start" fill="#ee7d23"  stroke="#ee7d23" stroke-width="0.25">20</text>
<line x1="558.60" y1="341.39" x2="562.60" y2="341.39" stroke="#ee7d23" stroke-width="1.1" />
<text x="564.00" y="344.29" font-size="9.9" text-anchor="start" fill="#ee7d23"  stroke="#ee7d23" stroke-width="0.25">30</text>
<line x1="558.60" y1="317.92" x2="562.60" y2="317.92" stroke="#ee7d23" stroke-width="1.1" />
<text x="564.00" y="320.82" font-size="9.9" text-anchor="start" fill="#ee7d23"  stroke="#ee7d23" stroke-width="0.25">40</text>
<line x1="558.60" y1="294.45" x2="562.60" y2="294.45" stroke="#ee7d23" stroke-width="1.1" />
<text x="564.00" y="297.35" font-size="9.9" text-anchor="start" fill="#ee7d23"  stroke="#ee7d23" stroke-width="0.25">50</text>
<line x1="558.60" y1="270.98" x2="562.60" y2="270.98" stroke="#ee7d23" stroke-width="1.1" />
<text x="564.00" y="273.88" font-size="9.9" text-anchor="start" fill="#ee7d23"  stroke="#ee7d23" stroke-width="0.25">60</text>
<line x1="558.60" y1="247.51" x2="562.60" y2="247.51" stroke="#ee7d23" stroke-width="1.1" />
<text x="564.00" y="250.41" font-size="9.9" text-anchor="start" fill="#ee7d23"  stroke="#ee7d23" stroke-width="0.25">70</text>
<line x1="558.60" y1="400.06" x2="561.10" y2="400.06" stroke="#ee7d23" stroke-width="1.0" />
<line x1="558.60" y1="376.60" x2="561.10" y2="376.60" stroke="#ee7d23" stroke-width="1.0" />
<line x1="558.60" y1="353.12" x2="561.10" y2="353.12" stroke="#ee7d23" stroke-width="1.0" />
<line x1="558.60" y1="329.66" x2="561.10" y2="329.66" stroke="#ee7d23" stroke-width="1.0" />
<line x1="558.60" y1="306.19" x2="561.10" y2="306.19" stroke="#ee7d23" stroke-width="1.0" />
<line x1="558.60" y1="282.72" x2="561.10" y2="282.72" stroke="#ee7d23" stroke-width="1.0" />
<line x1="558.60" y1="259.25" x2="561.10" y2="259.25" stroke="#ee7d23" stroke-width="1.0" />
<text x="456.85" y="438.00" font-size="14.1" text-anchor="middle" fill="#111"  stroke="#111" stroke-width="0.25">Time (s)</text>
<text transform="translate(327.5,329.8) rotate(-90)" font-size="14.3" text-anchor="middle" fill="#111" stroke="#111" stroke-width="0.25">Voltage (mV)</text>
<text transform="translate(584.5,327.8) rotate(-90)" font-size="10.5" text-anchor="middle" fill="#ee7d23" stroke="#ee7d23" stroke-width="0.2">RH (%)</text>
<text x="305.70" y="264.70" font-size="30.6" text-anchor="start" fill="#111" stroke="#111" stroke-width="0.3">d</text>
<text x="456.60" y="387.20" font-size="8.4" text-anchor="middle" fill="#000"  stroke="#000" stroke-width="0.25">Exposure to moisture</text>
<rect x="494.80" y="252.60" width="41.40" height="20.00" fill="#000" />
<rect x="492.7" y="250.4" width="41.3" height="20.0" fill="#fff" stroke="#444" stroke-width="0.5"/>
<line x1="493.80" y1="256.70" x2="505.60" y2="256.70" stroke="#555" stroke-width="0.5" />
<rect x="498.10" y="255.20" width="3.00" height="3.00" fill="#000" />
<line x1="493.80" y1="266.00" x2="505.60" y2="266.00" stroke="#ee7d23" stroke-width="0.6" />
<rect x="498.10" y="264.50" width="3.00" height="3.00" fill="#ee7d23" />
<text x="507.20" y="258.30" font-size="7.8" text-anchor="start" fill="#111"  stroke="#111" stroke-width="0.25">Voltage</text>
<text x="508.00" y="267.50" font-size="7.8" text-anchor="start" fill="#111"  stroke="#111" stroke-width="0.25">RH</text>
</svg>
</body>
</html>
